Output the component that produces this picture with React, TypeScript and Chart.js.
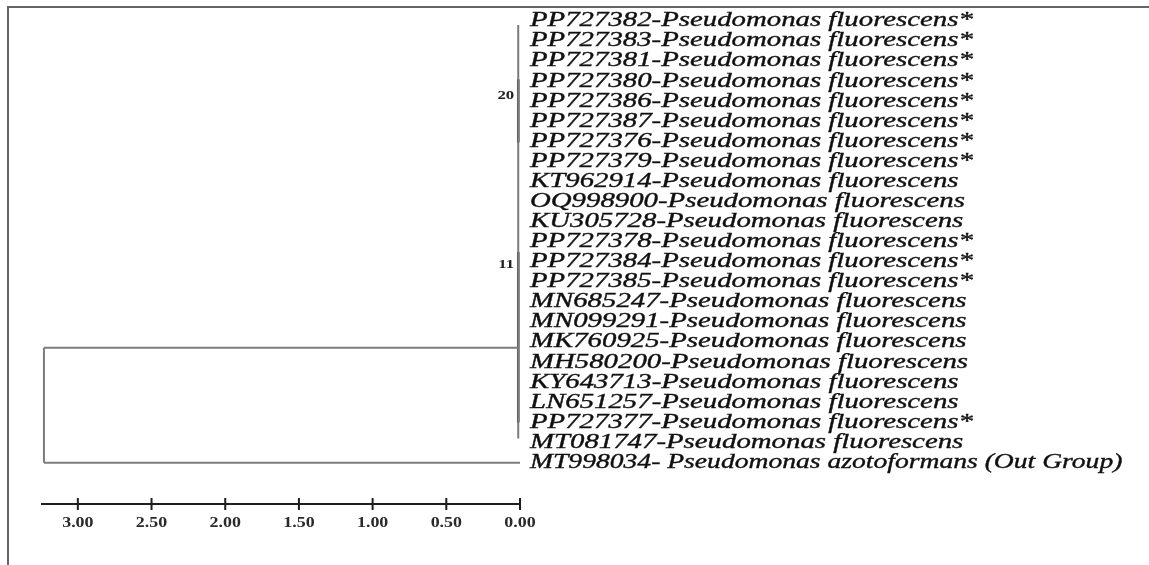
import React, { useEffect, useRef } from "react";
import { Chart, registerables } from "chart.js";

Chart.register(...registerables);

// ---- data ----
const LEAVES: string[] = [
  "PP727382-Pseudomonas fluorescens*",
  "PP727383-Pseudomonas fluorescens*",
  "PP727381-Pseudomonas fluorescens*",
  "PP727380-Pseudomonas fluorescens*",
  "PP727386-Pseudomonas fluorescens*",
  "PP727387-Pseudomonas fluorescens*",
  "PP727376-Pseudomonas fluorescens*",
  "PP727379-Pseudomonas fluorescens*",
  "KT962914-Pseudomonas fluorescens",
  "OQ998900-Pseudomonas fluorescens",
  "KU305728-Pseudomonas fluorescens",
  "PP727378-Pseudomonas fluorescens*",
  "PP727384-Pseudomonas fluorescens*",
  "PP727385-Pseudomonas fluorescens*",
  "MN685247-Pseudomonas fluorescens",
  "MN099291-Pseudomonas fluorescens",
  "MK760925-Pseudomonas fluorescens",
  "MH580200-Pseudomonas fluorescens",
  "KY643713-Pseudomonas fluorescens",
  "LN651257-Pseudomonas fluorescens",
  "PP727377-Pseudomonas fluorescens*",
  "MT081747-Pseudomonas fluorescens",
  "MT998034- Pseudomonas azotoformans (Out Group)",
];

const AXIS_TICKS: number[] = [3.0, 2.5, 2.0, 1.5, 1.0, 0.5, 0.0];
const AXIS_MAX = 3.25;

const ROOT_DEPTH = 3.23;
const INGROUP_NODE_DEPTH = 0.012;
const INGROUP_ROW = 16.27;
const OUTGROUP_ROW = 22;
const INGROUP_SPAN: number[] = [0.2, 20.8];
const CLADE_20_SPAN: number[] = [2.9, 6.05];
const CLADE_11_SPAN: number[] = [11.5, 20.0];
const BOOTSTRAP_LABELS: string[] = ["20", "11"];
const BOOTSTRAP_ROWS: number[] = [3.75, 12.15];

// ---- styles ----
const GRAY = "#7c7c7c";
const DARK = "#1e1e1e";
const LABEL_STRETCH = 1.44;
const OUTGROUP_STRETCH = 1.38;
const TICK_STRETCH = 1.28;

const seg = (x1: number, y1: number, x2: number, y2: number) => [
  { x: x1, y: y1 },
  { x: x2, y: y2 },
];

const treePlugin = {
  id: "treeDecor",
  beforeDraw(chart: any) {
    const { ctx, width, height } = chart;
    ctx.save();
    ctx.fillStyle = "#666666";
    ctx.fillRect(7, 6, 2, height - 6);
    ctx.fillRect(7, 6, width - 7, 2);
    ctx.restore();
  },
  afterDraw(chart: any) {
    const { ctx, chartArea } = chart;
    const xs = chart.scales.x;
    const ys = chart.scales.y;
    ctx.save();

    // leaf labels
    ctx.font = 'italic 20px "Liberation Serif"';
    ctx.fillStyle = "#101010";
    ctx.strokeStyle = "#101010";
    ctx.lineWidth = 0.35;
    ctx.textBaseline = "middle";
    ctx.textAlign = "left";
    const lx = xs.getPixelForValue(0) + 10;
    LEAVES.forEach((t, i) => {
      const py = ys.getPixelForValue(i);
      ctx.save();
      ctx.translate(lx, py);
      ctx.scale(i === LEAVES.length - 1 ? OUTGROUP_STRETCH : LABEL_STRETCH, 1);
      ctx.fillText(t, 0, 0);
      ctx.strokeText(t, 0, 0);
      ctx.restore();
    });

    // bootstrap values
    ctx.font = 'bold 12px "Liberation Serif"';
    ctx.fillStyle = "#222222";
    ctx.textAlign = "right";
    BOOTSTRAP_LABELS.forEach((t, i) => {
      const px = xs.getPixelForValue(INGROUP_NODE_DEPTH) - 4;
      const py = ys.getPixelForValue(BOOTSTRAP_ROWS[i]);
      ctx.save();
      ctx.translate(px, py);
      ctx.scale(1.4, 1);
      ctx.fillText(t, 0, 0);
      ctx.restore();
    });

    // scale bar
    const by = chartArea.bottom - 1;
    ctx.strokeStyle = DARK;
    ctx.lineWidth = 2;
    ctx.beginPath();
    ctx.moveTo(xs.getPixelForValue(AXIS_MAX), by);
    ctx.lineTo(xs.getPixelForValue(0), by);
    ctx.stroke();
    ctx.font = 'bold 14px "Liberation Serif"';
    ctx.fillStyle = "#2a2a2a";
    ctx.textAlign = "center";
    AXIS_TICKS.forEach((v) => {
      const px = xs.getPixelForValue(v);
      ctx.beginPath();
      ctx.moveTo(px, by - 6);
      ctx.lineTo(px, by + 6);
      ctx.stroke();
      ctx.save();
      ctx.translate(px, by + 19);
      ctx.scale(TICK_STRETCH, 1);
      ctx.fillText(v.toFixed(2), 0, 0);
      ctx.restore();
    });
    ctx.restore();
  },
};

export default function App() {
  const ref = useRef<HTMLCanvasElement | null>(null);

  useEffect(() => {
    if (!ref.current) return;
    const line = (data: any[], color: string, width: number) => ({
      data,
      showLine: true,
      borderColor: color,
      borderWidth: width,
      pointRadius: 0,
      pointHoverRadius: 0,
      fill: false,
      clip: false,
      borderCapStyle: "butt",
    });
    const chart = new Chart(ref.current, {
      type: "scatter",
      data: {
        datasets: [
          line(seg(ROOT_DEPTH, INGROUP_ROW, ROOT_DEPTH, OUTGROUP_ROW), GRAY, 2),
          line(seg(ROOT_DEPTH, INGROUP_ROW, INGROUP_NODE_DEPTH, INGROUP_ROW), GRAY, 2),
          line(seg(ROOT_DEPTH, OUTGROUP_ROW, 0, OUTGROUP_ROW), GRAY, 2),
          line(seg(INGROUP_NODE_DEPTH, INGROUP_SPAN[0], INGROUP_NODE_DEPTH, INGROUP_SPAN[1]), GRAY, 2),
          line(seg(INGROUP_NODE_DEPTH, CLADE_20_SPAN[0], INGROUP_NODE_DEPTH, CLADE_20_SPAN[1]), DARK, 2.5),
          line(seg(INGROUP_NODE_DEPTH, CLADE_11_SPAN[0], INGROUP_NODE_DEPTH, CLADE_11_SPAN[1]), DARK, 2.5),
        ] as any,
      },
      options: {
        animation: false,
        responsive: false,
        events: [],
        layout: { padding: { left: 41, right: 629, top: 11, bottom: 60 } },
        plugins: { legend: { display: false }, tooltip: { enabled: false } },
        scales: {
          x: { type: "linear", reverse: true, min: 0, max: AXIS_MAX, display: false },
          y: { type: "linear", reverse: true, min: -0.5, max: 24.11, display: false },
        },
      },
      plugins: [treePlugin],
    } as any);
    return () => chart.destroy();
  }, []);

  return (
    <div style={{ position: "absolute", left: 0, top: 0, width: 1149, height: 565, background: "#fff" }}>
      <canvas ref={ref} width={1149} height={565} style={{ display: "block" }} />
    </div>
  );
}
